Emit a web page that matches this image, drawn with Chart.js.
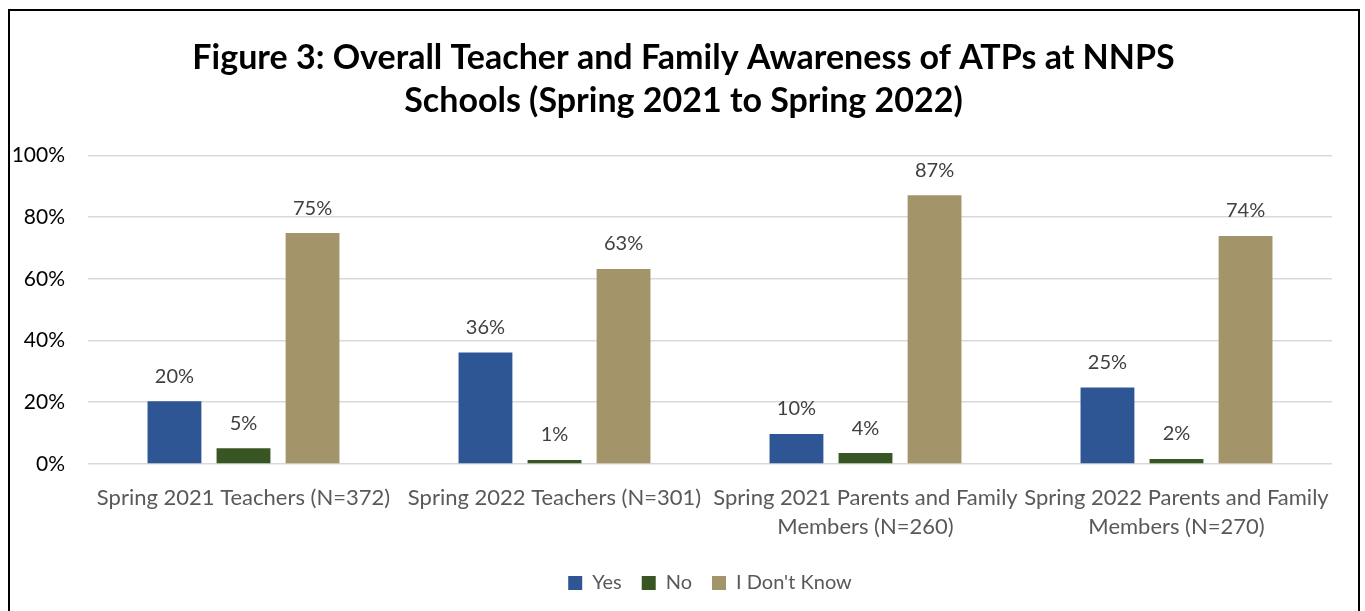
<!DOCTYPE html>
<html>
<head>
<meta charset="utf-8">
<script src="https://cdn.jsdelivr.net/npm/chart.js@4"></script>
<style>
  html, body { margin: 0; padding: 0; overflow: hidden; background: #fff; }
  #frame { position: absolute; left: 8px; top: 9px; width: 1348px; height: 640px; border: 2px solid #000; }
  #wrap { position: absolute; left: 0; top: 0; width: 1365px; height: 611px; }
</style>
</head>
<body>
<div id="frame"></div>
<div id="wrap"><canvas id="awarenessChart"></canvas></div>
<script>
// Categories and survey results (share of respondents)
const categories = [
  "Spring 2021 Teachers (N=372)",
  "Spring 2022 Teachers (N=301)",
  ["Spring 2021 Parents and Family", "Members (N=260)"],
  ["Spring 2022 Parents and Family", "Members (N=270)"]
];
const yesValues = [0.203, 0.361, 0.097, 0.248];
const noValues = [0.051, 0.013, 0.035, 0.016];
const dontKnowValues = [0.748, 0.632, 0.871, 0.739];
const yTicks = [0, 0.2, 0.4, 0.6, 0.8, 1.0];

const FONT = "Lato, 'Open Sans', sans-serif";

// Draw value labels above each bar
const barLabels = {
  id: "barLabels",
  afterDatasetsDraw(chart) {
    const ctx = chart.ctx;
    ctx.save();
    ctx.font = "20px " + FONT;
    ctx.fillStyle = "#404040";
    ctx.textAlign = "center";
    ctx.textBaseline = "middle";
    chart.data.datasets.forEach((ds, i) => {
      chart.getDatasetMeta(i).data.forEach((bar, j) => {
        ctx.fillText(Math.round(ds.data[j] * 100) + "%", bar.x, bar.y - 25);
      });
    });
    ctx.restore();
  }
};

// Title sits centred on the whole frame, not on the padded area
const centreTitle = {
  id: "centreTitle",
  afterLayout(chart) {
    const t = chart.titleBlock;
    t.left += 11;
    t.right += 11;
  }
};

const config = {
  type: "bar",
  data: {
    labels: categories,
    datasets: [
      { label: "Yes", data: yesValues, backgroundColor: "#2E5594" },
      { label: "No", data: noValues, backgroundColor: "#375623" },
      { label: "I Don't Know", data: dontKnowValues, backgroundColor: "#A4946A" }
    ]
  },
  options: {
    responsive: false,
    animation: false,
    devicePixelRatio: 1,
    layout: { padding: { left: 13, right: 33, top: 28, bottom: 8 } },
    datasets: {
      bar: { categoryPercentage: 0.666, barPercentage: 0.78 }
    },
    plugins: {
      title: {
        display: true,
        text: ["Figure 3: Overall Teacher and Family Awareness of ATPs at NNPS", "Schools (Spring 2021 to Spring 2022)"],
        font: { family: FONT, size: 34, weight: "bold", lineHeight: 1.27 },
        color: "#000",
        padding: { top: 8, bottom: 33 }
      },
      legend: {
        display: true,
        position: "bottom",
        fullSize: false,
        labels: {
          font: { family: FONT, size: 20 },
          color: "#595959",
          boxWidth: 14,
          boxHeight: 14,
          padding: 20
        }
      },
      tooltip: { enabled: false }
    },
    scales: {
      x: {
        grid: { display: false, drawTicks: false },
        border: { display: false },
        afterFit(axis) {
          axis.height -= 7;
        },
        ticks: {
          font: { family: FONT, size: 22, lineHeight: 1.32 },
          color: "#595959",
          maxRotation: 0,
          autoSkip: false,
          padding: 19
        }
      },
      y: {
        min: 0,
        max: 1,
        afterBuildTicks(axis) {
          axis.ticks = yTicks.map(v => ({ value: v }));
        },
        afterFit(axis) {
          axis.width = 75;
        },
        grid: { color: "#D9D9D9", lineWidth: 1.5, drawTicks: false },
        border: { display: false },
        ticks: {
          font: { family: FONT, size: 21 },
          color: "#000",
          padding: 23,
          callback: v => Math.round(v * 100) + "%"
        }
      }
    }
  },
  plugins: [barLabels, centreTitle]
};

const canvas = document.getElementById("awarenessChart");
canvas.width = 1365;
canvas.height = 611;
const awarenessChart = new Chart(canvas, config);
</script>
</body>
</html>
